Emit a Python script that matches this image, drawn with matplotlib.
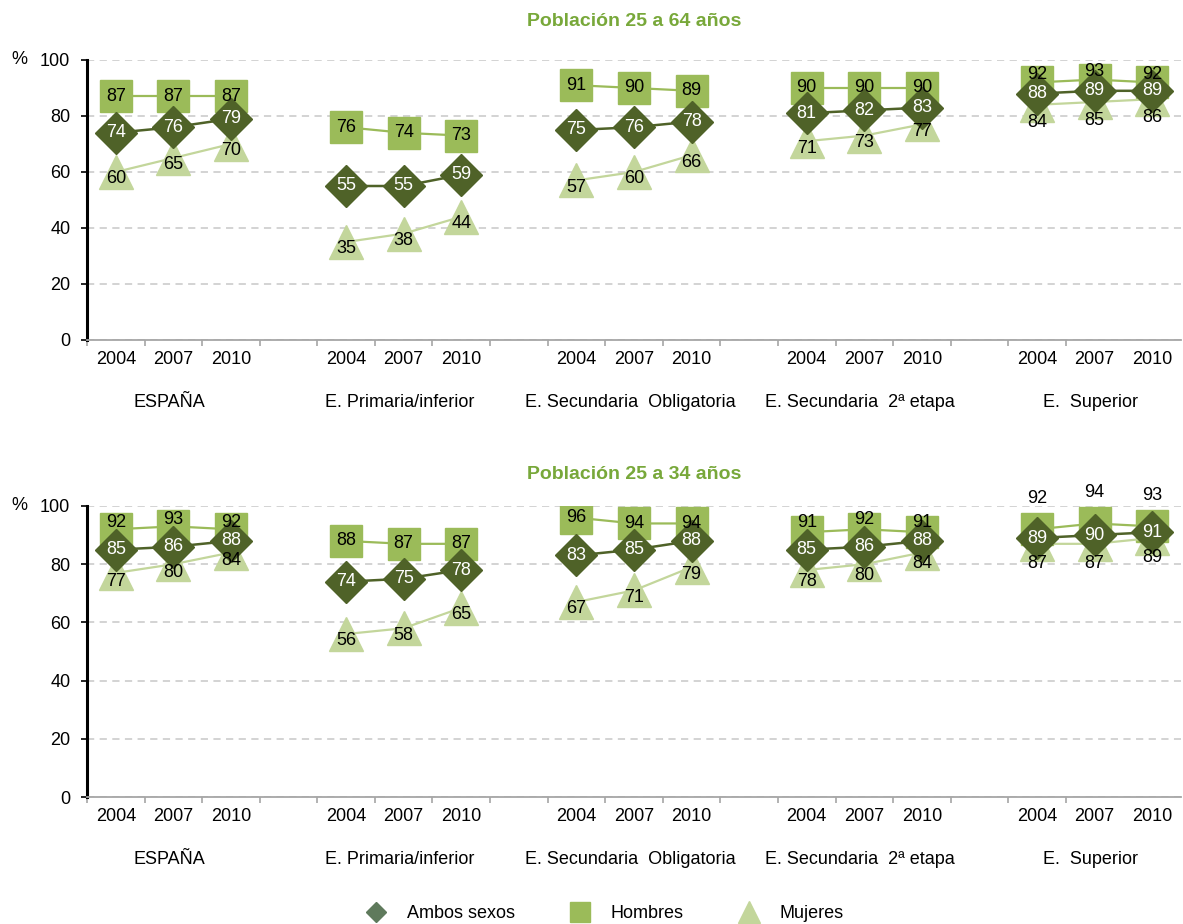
import matplotlib.pyplot as plt
from matplotlib.lines import Line2D

plt.rcParams['font.family'] = ['Liberation Sans', 'DejaVu Sans']

groups = ['ESPAÑA', 'E. Primaria/inferior', 'E. Secundaria  Obligatoria',
          'E. Secundaria  2ª etapa', 'E.  Superior']
years = ['2004', '2007', '2010']

# Población 25 a 64 años
ambos_64 = [[74, 76, 79], [55, 55, 59], [75, 76, 78], [81, 82, 83], [88, 89, 89]]
hombres_64 = [[87, 87, 87], [76, 74, 73], [91, 90, 89], [90, 90, 90], [92, 93, 92]]
mujeres_64 = [[60, 65, 70], [35, 38, 44], [57, 60, 66], [71, 73, 77], [84, 85, 86]]

# Población 25 a 34 años
ambos_34 = [[85, 86, 88], [74, 75, 78], [83, 85, 88], [85, 86, 88], [89, 90, 91]]
hombres_34 = [[92, 93, 92], [88, 87, 87], [96, 94, 94], [91, 92, 91], [92, 94, 93]]
mujeres_34 = [[77, 80, 84], [56, 58, 65], [67, 71, 79], [78, 80, 84], [87, 87, 89]]

c_ambos = '#4f6228'
c_hombres = '#9bbb59'
c_mujeres = '#c3d69b'
c_title = '#78a83a'
fs = 13


def draw_panel(ax, title, ambos, hombres, mujeres, title_off, lab_off):
    ax.set_xlim(-0.5, 18.5)
    ax.set_ylim(0, 100)
    for g in range(len(groups)):
        xs = [4 * g + j for j in range(3)]
        ax.plot(xs, hombres[g], color=c_hombres, lw=1.6, marker='s', ms=23.5,
                mec=c_hombres, zorder=3)
        ax.plot(xs, mujeres[g], color=c_mujeres, lw=1.6, marker='^', ms=25,
                mec=c_mujeres, zorder=4)
        ax.plot(xs, ambos[g], color=c_ambos, lw=1.8, marker='D', ms=21,
                mec=c_ambos, zorder=5)
        for j, x in enumerate(xs):
            ax.annotate(str(hombres[g][j]), (x, hombres[g][j]), xytext=(0, lab_off['h'][g]),
                        textcoords='offset points', ha='center', va='center',
                        fontsize=fs, color='black', zorder=10)
            ax.annotate(str(mujeres[g][j]), (x, mujeres[g][j]), xytext=(0, lab_off['m'][g]),
                        textcoords='offset points', ha='center', va='center',
                        fontsize=fs, color='black', zorder=10)
            ax.annotate(str(ambos[g][j]), (x, ambos[g][j]), xytext=(0, 0),
                        textcoords='offset points', ha='center', va='center',
                        fontsize=fs, color='white', zorder=11)
        ax.annotate(groups[g], (4 * g + 1, 0), xycoords=('data', 'axes fraction'),
                    xytext=(-3, -45), textcoords='offset points',
                    ha='center', va='center', fontsize=fs)

    # ticks
    ax.set_yticks(range(0, 101, 20))
    ax.set_xticks([x - 0.5 for x in range(18)])
    ax.set_xticklabels([])
    pos = [4 * g + j for g in range(len(groups)) for j in range(3)]
    ax.set_xticks(pos, minor=True)
    ax.set_xticklabels(years * len(groups), minor=True)
    ax.tick_params(axis='x', which='major', length=4, width=1.2, color='#a6a6a6')
    ax.tick_params(axis='x', which='minor', length=0, pad=8, labelsize=fs)
    ax.tick_params(axis='y', length=4, width=1.2, pad=8, labelsize=fs)

    ax.grid(axis='y', color='#d0d0d0', ls=(0, (4, 3)), lw=1.3, zorder=0)
    ax.set_axisbelow(True)
    for s in ['top', 'right']:
        ax.spines[s].set_visible(False)
    ax.spines['left'].set_linewidth(2.2)
    ax.spines['left'].set_color('black')
    ax.spines['bottom'].set_color('#a6a6a6')
    ax.spines['bottom'].set_linewidth(1.3)

    ax.annotate('%', (0, 1), xycoords='axes fraction', xytext=(-49, 0),
                textcoords='offset points', ha='center', va='center', fontsize=fs)
    ax.annotate(title, (0.5, 1), xycoords='axes fraction', xytext=(0, title_off),
                textcoords='offset points', ha='center', va='center',
                fontsize=14, fontweight='bold', color=c_title)


fig = plt.figure(figsize=(11.83, 9.24), dpi=100)
ax1 = fig.add_axes([87 / 1183, 1 - 340 / 924, 1094 / 1183, 280 / 924])
ax2 = fig.add_axes([87 / 1183, 1 - 797 / 924, 1094 / 1183, 291 / 924])

draw_panel(ax1, 'Población 25 a 64 años', ambos_64, hombres_64, mujeres_64, 28,
           {'h': [0, 0, 0, 0, 6], 'm': [-5, -5, -5, -5, -13]})
draw_panel(ax2, 'Población 25 a 34 años', ambos_34, hombres_34, mujeres_34, 23,
           {'h': [5, 0, 0, 7, 22], 'm': [-6, -5, -5, -8, -14]})

handles = [
    Line2D([], [], ls='', marker='D', ms=10, color='#5f7a5c'),
    Line2D([], [], ls='', marker='s', ms=15, color=c_hombres),
    Line2D([], [], ls='', marker='^', ms=16, color=c_mujeres),
]
fig.legend(handles, ['Ambos sexos', 'Hombres', 'Mujeres'], loc='center',
           bbox_to_anchor=(0.508, 1 - 914 / 924), ncol=3, frameon=False,
           fontsize=fs, handletextpad=0.7, columnspacing=2.6)

fig.savefig('out.png', dpi=100)
